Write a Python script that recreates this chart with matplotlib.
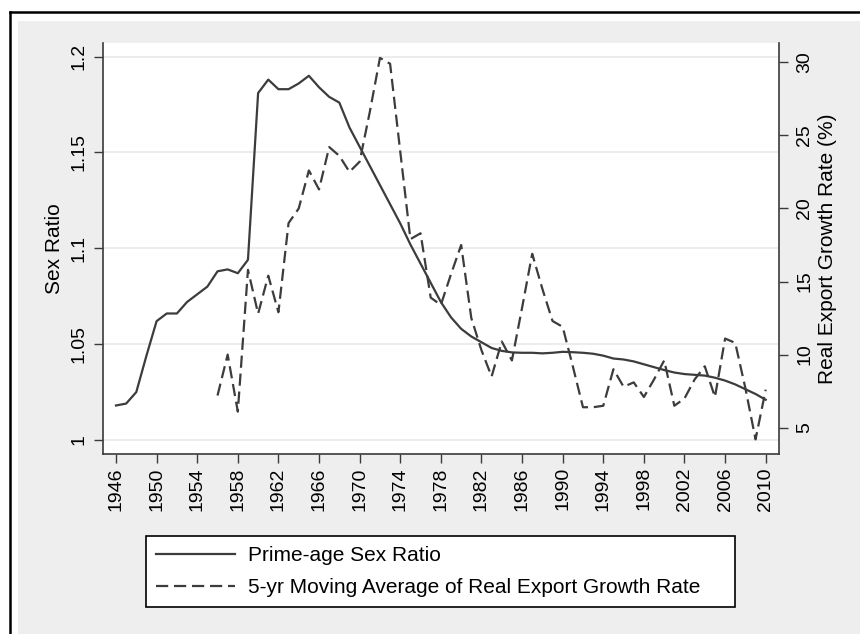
import numpy as np
import matplotlib.pyplot as plt
from matplotlib.patches import Rectangle
from matplotlib.lines import Line2D

plt.rcParams['font.family'] = ['Liberation Sans', 'DejaVu Sans']

# =====================================================================
# 1. DATA
# =====================================================================
years = list(range(1946, 2011))

# Prime-age sex ratio (left axis)
sex_ratio = [
    1.018, 1.019, 1.025, 1.044, 1.062, 1.066, 1.066, 1.072, 1.076, 1.080,   # 1946-1955
    1.088, 1.089, 1.087, 1.094, 1.181, 1.188, 1.183, 1.183, 1.186, 1.190,   # 1956-1965
    1.184, 1.179, 1.176, 1.163, 1.153, 1.143, 1.133, 1.123, 1.113, 1.102,   # 1966-1975
    1.092, 1.082, 1.072, 1.064, 1.058, 1.054, 1.051, 1.048, 1.0465, 1.0457, # 1976-1985
    1.0455, 1.0455, 1.0452, 1.0455, 1.046, 1.0458, 1.0455, 1.045, 1.044, 1.0425,  # 1986-1995
    1.042, 1.041, 1.0395, 1.038, 1.0365, 1.0352, 1.0344, 1.034, 1.0336, 1.0325,  # 1996-2005
    1.031, 1.029, 1.0265, 1.024, 1.021,                                     # 2006-2010
]

# 5-yr moving average of real export growth rate, % (right axis), starts 1956
export_growth = [
    np.nan, np.nan, np.nan, np.nan, np.nan, np.nan, np.nan, np.nan, np.nan, np.nan,  # 1946-1955
    7.2, 10.0, 6.1, 15.8, 12.8, 15.4, 12.9, 19.0, 20.0, 22.6,      # 1956-1965
    21.3, 24.2, 23.6, 22.5, 23.2, 26.6, 30.3, 29.9, 23.9, 17.9,    # 1966-1975
    18.3, 13.9, 13.4, 15.5, 17.5, 12.5, 10.3, 8.5, 10.9, 9.6,      # 1976-1985
    13.2, 16.9, 14.5, 12.3, 11.9, 9.2, 6.4, 6.4, 6.5, 9.0,         # 1986-1995
    7.8, 8.1, 7.1, 8.3, 9.6, 6.5, 7.0, 8.3, 9.2, 7.1,              # 1996-2005
    11.1, 10.8, 7.7, 4.2, 7.6,                                     # 2006-2010
]

left_ticks = [1.0, 1.05, 1.1, 1.15, 1.2]
left_tick_labels = ['1', '1.05', '1.1', '1.15', '1.2']
right_ticks = [5, 10, 15, 20, 25, 30]
year_ticks = list(range(1946, 2011, 4))

# =====================================================================
# 2. FIGURE FRAME (Stata-like grey graph region)
# =====================================================================
W, H = 860, 634
fig = plt.figure(figsize=(W / 100, H / 100), dpi=100)
fig.patch.set_facecolor('white')
fig.add_artist(Rectangle((18 / W, 0), 1, 1 - 21 / H, transform=fig.transFigure,
                         facecolor='#eeeeee', edgecolor='none', zorder=-2))
fig.add_artist(Line2D([10 / W, 1], [1 - 12 / H, 1 - 12 / H], transform=fig.transFigure,
                      color='black', lw=1.8, zorder=-1))
fig.add_artist(Line2D([10 / W, 10 / W], [0, 1 - 12 / H], transform=fig.transFigure,
                      color='black', lw=1.8, zorder=-1))

ax = fig.add_axes([103 / W, 1 - 454 / H, (779 - 103) / W, (454 - 43) / H])
ax2 = ax.twinx()

line_col = '#3c3c3c'
spine_col = '#3a3a3a'

# =====================================================================
# 3. SERIES
# =====================================================================
l1, = ax.plot(years, sex_ratio, color=line_col, lw=1.6, label='Prime-age Sex Ratio')
l2, = ax2.plot(years, export_growth, color=line_col, lw=1.6, dashes=(5.5, 2.6),
               label='5-yr Moving Average of Real Export Growth Rate')

ax.set_xlim(1944.72, 2011.31)
ax.set_ylim(0.9927, 1.2071)
ax2.set_ylim(3.20, 31.32)

# =====================================================================
# 4. AXES STYLING
# =====================================================================
ax.set_facecolor('white')
ax.set_yticks(left_ticks)
ax.set_yticklabels(left_tick_labels, rotation=90, va='center')
ax.set_xticks(year_ticks)
ax.set_xticklabels([str(y) for y in year_ticks], rotation=90)
ax2.set_yticks(right_ticks)
ax2.set_yticklabels([str(v) for v in right_ticks], rotation=90, va='center')

ax.grid(axis='y', color='#eaeaea', lw=1.3)
ax.set_axisbelow(True)

ax.tick_params(axis='y', length=6.5, width=1.0, colors=spine_col, labelcolor='black',
               labelsize=14, pad=5)
ax.tick_params(axis='x', length=6.5, width=1.0, colors=spine_col, labelcolor='black',
               labelsize=14, pad=3)
ax2.tick_params(axis='y', length=6.5, width=1.0, colors=spine_col, labelcolor='black',
                labelsize=14, pad=6)

for name in ['top', 'right']:
    ax.spines[name].set_visible(False)
for name in ['top', 'left', 'bottom']:
    ax2.spines[name].set_visible(False)
for sp in [ax.spines['left'], ax.spines['bottom'], ax2.spines['right']]:
    sp.set_color(spine_col)
    sp.set_linewidth(1.2)

ax.set_ylabel('Sex Ratio', fontsize=15)
ax.yaxis.set_label_coords(-0.058, 0.5)
ax2.set_ylabel('Real Export Growth Rate (%)', fontsize=15)
ax2.yaxis.set_label_coords(1.058, 0.5)

# =====================================================================
# 5. LEGEND BELOW THE PLOT
# =====================================================================
leg = fig.legend(handles=[l1, l2], loc='upper left',
                 bbox_to_anchor=(145.7 / W, 1 - 605 / H, (735 - 145.7) / W, (605 - 536) / H),
                 mode='expand', borderaxespad=0, fontsize=15, handlelength=3.8,
                 handletextpad=0.6, borderpad=0.5, labelspacing=0.6,
                 fancybox=False, shadow=False, framealpha=1)
leg.get_frame().set_edgecolor('black')
leg.get_frame().set_linewidth(1.2)

plt.savefig('out.png', dpi=100)
